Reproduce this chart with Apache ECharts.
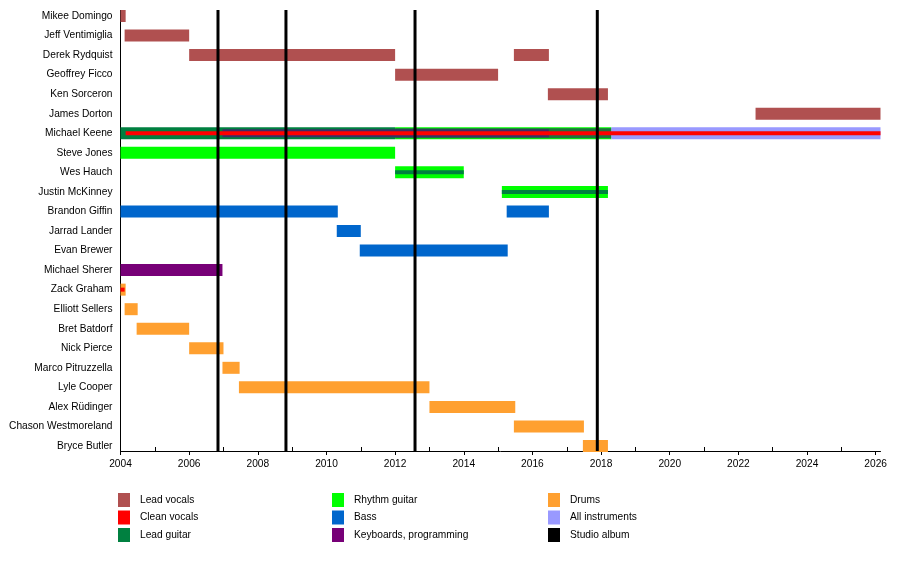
<!DOCTYPE html>
<html>
<head>
<meta charset="utf-8">
<script src="https://cdn.jsdelivr.net/npm/echarts@6/dist/echarts.min.js"></script>
<style>
  html, body { margin: 0; padding: 0; background: #fff; }
  #chart { width: 900px; height: 570px; }
</style>
</head>
<body>
<div id="chart"></div>
<script>
// band members, top to bottom
const members = [
  'Mikee Domingo', 'Jeff Ventimiglia', 'Derek Rydquist', 'Geoffrey Ficco',
  'Ken Sorceron', 'James Dorton', 'Michael Keene', 'Steve Jones', 'Wes Hauch',
  'Justin McKinney', 'Brandon Giffin', 'Jarrad Lander', 'Evan Brewer',
  'Michael Sherer', 'Zack Graham', 'Elliott Sellers', 'Bret Batdorf',
  'Nick Pierce', 'Marco Pitruzzella', 'Lyle Cooper', 'Alex Rüdinger',
  'Chason Westmoreland', 'Bryce Butler'
]

// [member, from, to] in decimal years
const leadVocals = [
  ['Mikee Domingo', 2004.0, 2004.15],
  ['Jeff Ventimiglia', 2004.12, 2006.0],
  ['Derek Rydquist', 2006.0, 2012.0],
  ['Derek Rydquist', 2015.46, 2016.48],
  ['Geoffrey Ficco', 2012.0, 2015.0],
  ['Ken Sorceron', 2016.45, 2018.2],
  ['James Dorton', 2022.5, 2026.14]
]
const rhythmGuitar = [
  ['Michael Keene', 2012.0, 2018.3],
  ['Steve Jones', 2004.0, 2012.0],
  ['Wes Hauch', 2012.0, 2014.0],
  ['Justin McKinney', 2015.11, 2018.2]
]
const leadGuitar = [
  ['Michael Keene', 2004.0, 2012.0]
]
// lead guitar drawn inside a rhythm guitar bar
const leadGuitarInner = [
  ['Michael Keene', 2012.0, 2018.3]
]
const leadGuitarStripe = [
  ['Wes Hauch', 2012.0, 2014.0],
  ['Justin McKinney', 2015.11, 2018.2]
]
const bass = [
  ['Brandon Giffin', 2004.0, 2010.33],
  ['Brandon Giffin', 2015.25, 2016.48],
  ['Jarrad Lander', 2010.3, 2011.0],
  ['Evan Brewer', 2010.97, 2015.28]
]
const keyboards = [
  ['Michael Sherer', 2004.0, 2006.97]
]
const keyboardsInner = [
  ['Michael Keene', 2006.97, 2016.48]
]
const allInstruments = [
  ['Michael Keene', 2018.3, 2026.14]
]
const drums = [
  ['Zack Graham', 2004.0, 2004.15],
  ['Elliott Sellers', 2004.12, 2004.5],
  ['Bret Batdorf', 2004.47, 2006.0],
  ['Nick Pierce', 2006.0, 2007.0],
  ['Marco Pitruzzella', 2006.97, 2007.47],
  ['Lyle Cooper', 2007.45, 2013.0],
  ['Alex Rüdinger', 2013.0, 2015.5],
  ['Chason Westmoreland', 2015.46, 2017.5],
  ['Bryce Butler', 2017.47, 2018.2]
]
const cleanVocals = [
  ['Michael Keene', 2004.15, 2026.14],
  ['Zack Graham', 2004.0, 2004.12]
]
// studio album release dates
const albums = [2006.84, 2008.82, 2012.58, 2017.89]

const legendCols = [
  ['Lead vocals', 'Clean vocals', 'Lead guitar'],
  ['Rhythm guitar', 'Bass', 'Keyboards, programming'],
  ['Drums', 'All instruments', 'Studio album']
]

const FONT = 'Liberation Sans, Arial, sans-serif'
const PAD_TOP = 6     // plot frame above first row
const PAD_BOTTOM = 5  // plot frame below last row

// one bar series, bars drawn h pixels high around the row centre
function barSeries(name, data, color, h) {
  return {
    type: 'custom',
    name: name,
    itemStyle: { color: color },
    data: data.map(d => [d[1], d[2], d[0]]),
    encode: { x: [0, 1], y: 2 },
    renderItem: (params, api) => {
      const s = api.coord([api.value(0), api.value(2)])
      const e = api.coord([api.value(1), api.value(2)])
      return {
        type: 'rect',
        shape: { x: s[0], y: s[1] - h / 2, width: e[0] - s[0], height: h },
        style: { fill: color }
      }
    },
    clip: false,
    silent: true
  }
}

const chart = echarts.init(document.getElementById('chart'))

const option = {
  animation: false,
  backgroundColor: '#fff',
  textStyle: { fontFamily: FONT },
  grid: { left: 120.5, right: 19.5, top: 16, bottom: 124 },
  xAxis: [{
    type: 'value',
    min: 2004,
    max: 2026.14,
    interval: 2,
    offset: PAD_BOTTOM,
    axisLine: { show: true, lineStyle: { color: '#000', width: 1 } },
    axisTick: { show: true, length: 4, lineStyle: { color: '#000' } },
    splitLine: { show: false },
    axisLabel: {
      color: '#000', fontSize: 10.2, fontFamily: FONT, margin: 8,
      showMaxLabel: false,
      formatter: v => String(Math.round(v))
    }
  }, {
    // odd years: short ticks pointing up into the plot
    type: 'value',
    position: 'bottom',
    min: 2004,
    max: 2026.14,
    interval: 2,
    offset: PAD_BOTTOM,
    axisLine: { show: false },
    axisTick: { show: false, inside: true },
    minorTick: { show: true, splitNumber: 2, length: 4, lineStyle: { color: '#000' } },
    splitLine: { show: false },
    axisLabel: { show: false }
  }],
  yAxis: {
    type: 'category',
    data: members,
    inverse: true,
    boundaryGap: false,
    axisLine: { show: false },
    axisTick: { show: false },
    splitLine: { show: false },
    axisLabel: { color: '#000', fontSize: 10.2, fontFamily: FONT, margin: 8 }
  },
  graphic: [{
    type: 'line',
    shape: { x1: 120.5, y1: 16 - PAD_TOP, x2: 120.5, y2: 446 + PAD_BOTTOM },
    style: { stroke: '#000', lineWidth: 1 },
    silent: true
  }],
  legend: legendCols.map((col, i) => ({
    orient: 'vertical',
    left: [113, 327, 543][i],
    top: 488,
    data: col,
    icon: 'rect',
    itemWidth: 12,
    itemHeight: 14,
    itemGap: 3.5,
    selectedMode: false,
    textStyle: { color: '#000', fontSize: 10.2, fontFamily: FONT, padding: [0, 0, 0, 5] }
  })),
  series: [
    barSeries('Lead vocals', leadVocals, '#b05050', 12),
    barSeries('Rhythm guitar', rhythmGuitar, '#00ff00', 12),
    barSeries('Lead guitar', leadGuitar, '#008040', 12),
    barSeries('Lead guitar', leadGuitarInner, '#1f7040', 10),
    barSeries('Lead guitar', leadGuitarStripe, '#008040', 4),
    barSeries('Bass', bass, '#0066cc', 12),
    barSeries('Keyboards, programming', keyboards, '#770077', 12),
    barSeries('Keyboards, programming', keyboardsInner, '#3a2f66', 8),
    barSeries('All instruments', allInstruments, '#9999ff', 12),
    barSeries('Drums', drums, '#ffa030', 12),
    barSeries('Clean vocals', cleanVocals, '#ff0000', 4),
    {
      // vertical line for each studio album, spanning the whole plot frame
      type: 'custom',
      name: 'Studio album',
      itemStyle: { color: '#000' },
      data: albums.map(a => [a]),
      encode: { x: 0 },
      renderItem: (params, api) => {
        const t = api.coord([api.value(0), 0])
        const b = api.coord([api.value(0), members.length - 1])
        return {
          type: 'line',
          shape: { x1: t[0], y1: t[1] - PAD_TOP, x2: b[0], y2: b[1] + PAD_BOTTOM },
          style: { stroke: '#000', lineWidth: 3 }
        }
      },
      clip: false,
      silent: true,
      z: 10
    }
  ]
}

chart.setOption(option)
</script>
</body>
</html>
